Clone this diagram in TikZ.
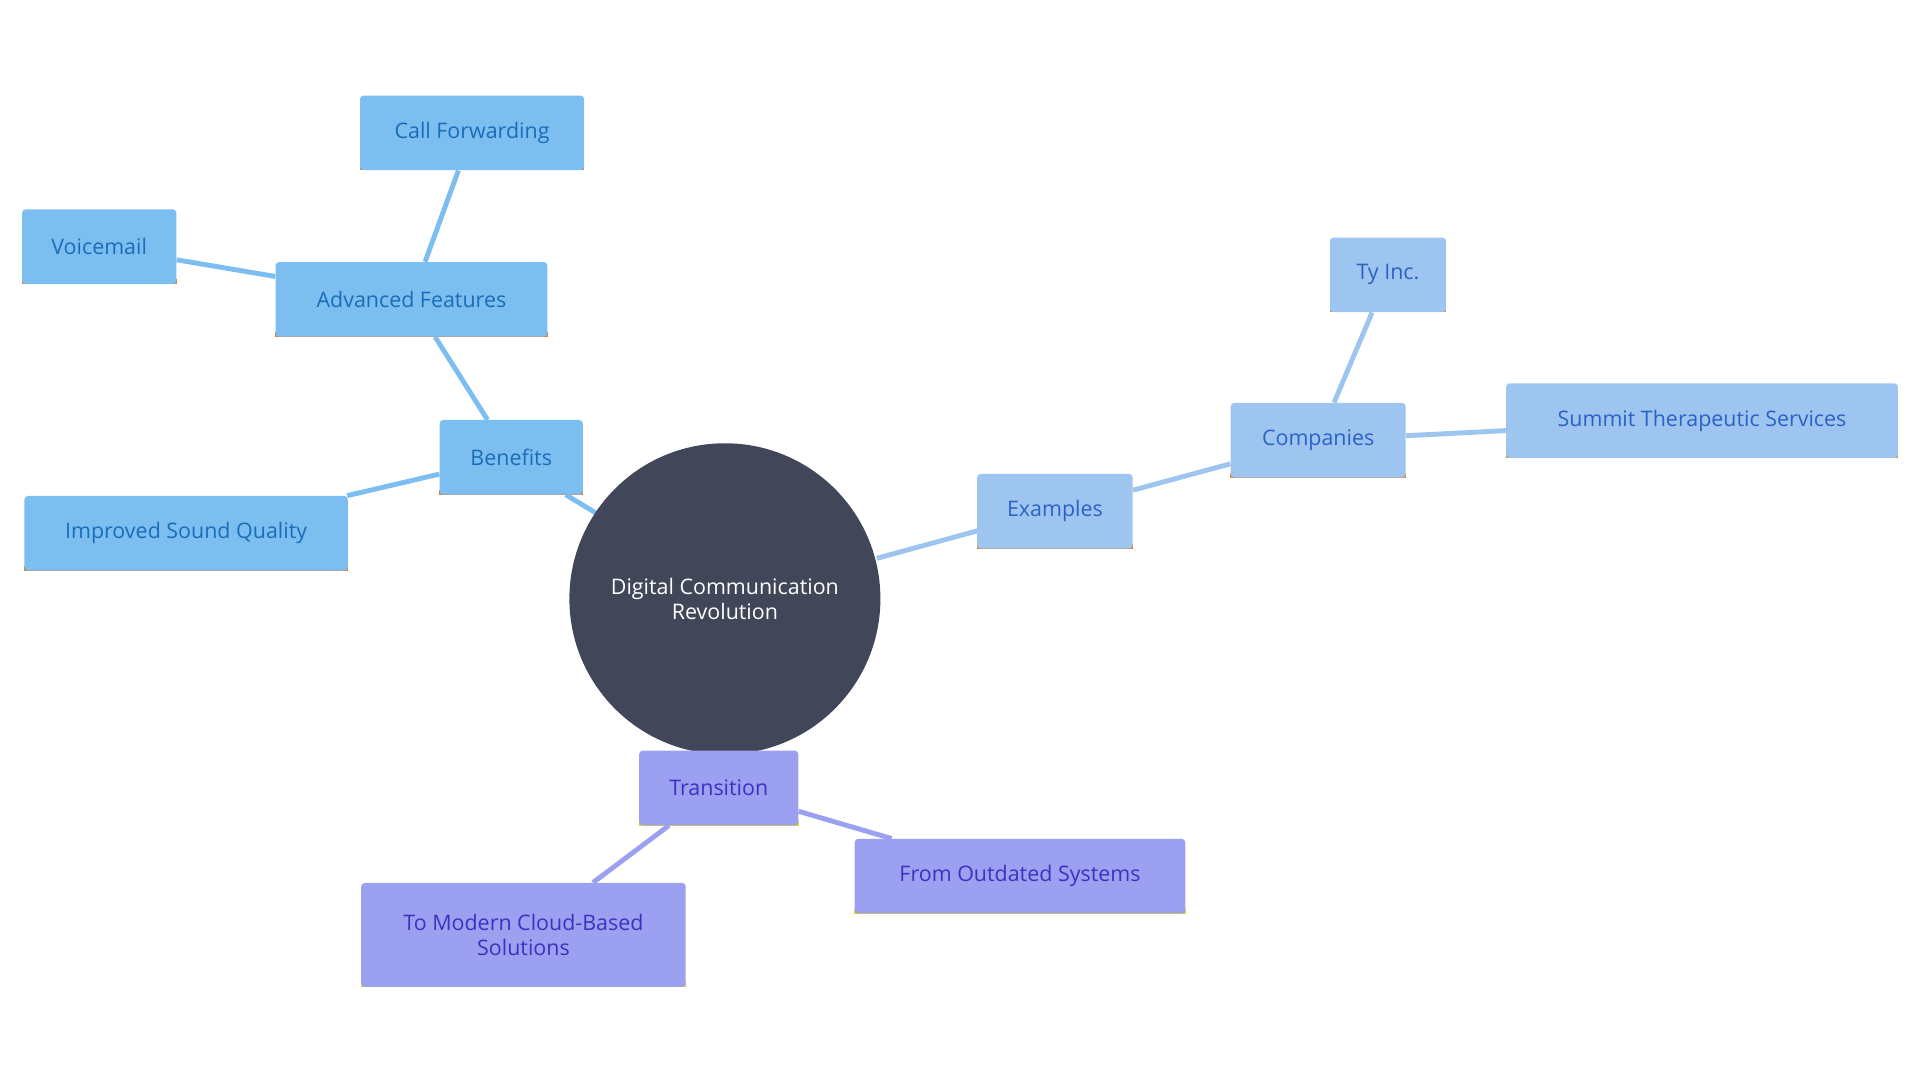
\documentclass[tikz,border=0pt]{standalone}
\usepackage{fontspec}
\setmainfont{Open Sans}
\begin{document}
\begin{tikzpicture}[x=1pt,y=-1pt,
 box/.style={rectangle,rounded corners=3pt,inner sep=0pt,align=center,font=\fontsize{17.5}{20}\selectfont},
 bl/.style={box,fill=cB,text=tB,append after command={\pgfextra{\draw[line width=4pt,cO] ([yshift=2pt]\tikzlastnode.south west)--([yshift=2pt]\tikzlastnode.south east);}}},
 ex/.style={box,fill=cE,text=tE,append after command={\pgfextra{\draw[line width=4pt,cO2] ([yshift=2pt]\tikzlastnode.south west)--([yshift=2pt]\tikzlastnode.south east);}}},
 tr/.style={box,fill=cT,text=tT,append after command={\pgfextra{\draw[line width=4pt,cY] ([yshift=2pt]\tikzlastnode.south west)--([yshift=2pt]\tikzlastnode.south east);}}},
 eb/.style={line width=4pt,draw=cB},
 ee/.style={line width=4pt,draw=cE},
 et/.style={line width=4pt,draw=cT}]
\definecolor{cB}{HTML}{7CBEF0}\definecolor{tB}{HTML}{1A6DB8}
\definecolor{cE}{HTML}{9EC4F0}\definecolor{tE}{HTML}{2B63C4}
\definecolor{cT}{HTML}{9CA0F0}\definecolor{tT}{HTML}{3A33C2}
\definecolor{cO}{HTML}{E0803A}\definecolor{cO2}{HTML}{D98A3A}\definecolor{cY}{HTML}{D2CF36}
\definecolor{cC}{HTML}{414659}
\useasboundingbox (0,0) rectangle (1568,882);
\draw[eb] (462,404)--(490,421);
\draw[ee] (716,456)--(800,433);
\node[circle,fill=cC,minimum size=254pt,inner sep=0pt,text=white,align=center,font=\fontsize{17.5}{20}\selectfont] (c) at (592,489) {Digital Communication\\Revolution};
\node[bl,minimum width=117pt,minimum height=61pt] (ben) at (417.5,373.5) {Benefits};
\node[bl,minimum width=222pt,minimum height=61pt] (adv) at (336,244.5) {Advanced Features};
\node[bl,minimum width=183pt,minimum height=61pt] (cf) at (385.5,108.5) {Call Forwarding};
\node[bl,minimum width=126pt,minimum height=61pt] (vm) at (81,201.5) {Voicemail};
\node[bl,minimum width=264pt,minimum height=61pt] (isq) at (152,435.5) {Improved Sound Quality};
\node[ex,minimum width=127pt,minimum height=61pt] (exa) at (861.5,417.5) {Examples};
\node[ex,minimum width=143pt,minimum height=61pt] (com) at (1076.5,359.5) {Companies};
\node[ex,minimum width=95pt,minimum height=61pt] (ty) at (1133.5,224.5) {Ty Inc.};
\node[ex,minimum width=320pt,minimum height=61pt] (sts) at (1390,343.5) {Summit Therapeutic Services};
\node[tr,minimum width=130pt,minimum height=61pt] (tra) at (587,643.5) {Transition};
\node[tr,minimum width=270pt,minimum height=61pt] (fos) at (833,715.5) {From Outdated Systems};
\node[tr,minimum width=265pt,minimum height=85pt] (tmc) at (427.5,763.5) {To Modern Cloud-Based\\Solutions};
\begin{scope}[on background layer/.style={}]
\end{scope}
\draw[eb] (ben)--(adv); \draw[eb] (adv)--(cf); \draw[eb] (adv)--(vm); \draw[eb] (ben)--(isq);
\draw[ee] (exa)--(com); \draw[ee] (com)--(ty); \draw[ee] (com)--(sts);
\draw[et] (tra)--(fos); \draw[et] (tra)--(tmc);
\end{tikzpicture}
\end{document}
